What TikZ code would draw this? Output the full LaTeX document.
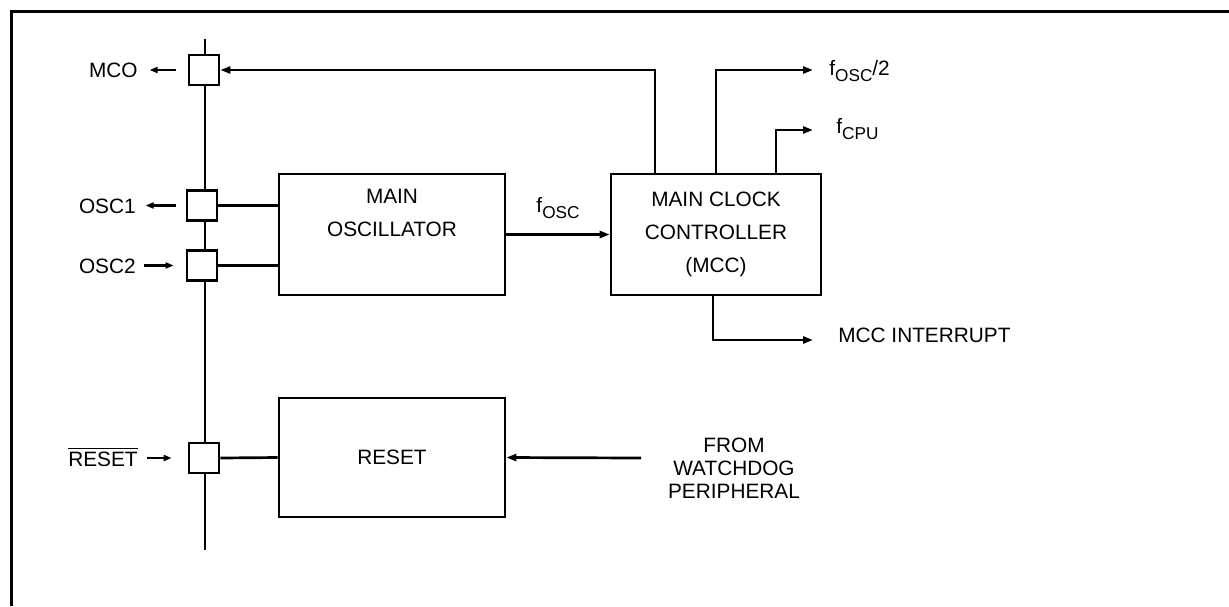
\documentclass[tikz,border=0pt]{standalone}
\usepackage{fontspec}
\setmainfont{Liberation Sans}
\usetikzlibrary{arrows.meta,calc}
\newcommand{\lsub}[1]{\raisebox{-3.3pt}{\fontsize{8.6}{9}\selectfont #1}}
\begin{document}
\begin{tikzpicture}[x=0.5pt,y=-0.5pt,
  line width=1.35pt,
  every node/.style={font=\fontsize{10.4}{16.5}\selectfont, inner sep=0pt},
  pinbox/.style={draw, minimum width=15pt, minimum height=15pt, fill=white},
  blk/.style={draw, minimum width=113pt, minimum height=60.5pt, align=center},
  arr/.style={-{Triangle[length=5pt,width=3.5pt]}},
  sarr/.style={-{Triangle[length=4pt,width=3pt]}}]
\useasboundingbox (0,0) rectangle (1229,606);
\draw[line width=1.5pt] (11,606) -- (11,11) -- (1229,11);

% bus
\coordinate (bustop) at (205,39);
\coordinate (busbot) at (205,550);
\draw (bustop) -- (busbot);

% pin boxes
\node[pinbox] (mco) at (204,70) {};
\node[pinbox] (osc1) at (202,205.5) {};
\node[pinbox] (osc2) at (202,265.5) {};
\node[pinbox] (rstp) at (204,458) {};

% pin labels
\node[anchor=base east] (lmco) at (139,77) {MCO};
\node[anchor=base east] (losc1) at (137,213) {OSC1};
\node[anchor=base east] (losc2) at (137,273) {OSC2};
\node[anchor=base east] (lrst) at (139,466) {$\overline{\mbox{RESET}}$};

\draw[sarr] ([xshift=-6pt]mco.west) -- ([xshift=-19pt]mco.west);
\draw[sarr] ([xshift=-5pt]osc1.west) -- ([xshift=-20pt]osc1.west);
\draw[sarr] ([xshift=-21pt]osc2.west) -- ([xshift=-6pt]osc2.west);
\draw[sarr] ([xshift=-20.5pt]rstp.west) -- ([xshift=-8pt]rstp.west);

% blocks
\node[blk] (osc) at (392,234.5) {MAIN\\OSCILLATOR\\\strut};
\node[blk, minimum width=105pt] (mcc) at (716,234.5) {MAIN CLOCK\\CONTROLLER\\(MCC)};
\node[blk, minimum height=59.5pt] (rst) at (392,457.5) {RESET};

% connections pins - blocks
\draw (osc1.east) -- (osc1.east -| osc.west);
\draw (osc2.east) -- (osc2.east -| osc.west);
\draw (rstp.east) -- (rst.west);

% fosc
\draw[arr] (osc.east) -- (mcc.west);
\node[anchor=base] (lfosc) at (558,212) {f\lsub{OSC}};

% MCO feedback
\coordinate (c1) at (655,70);
\draw[arr] (mcc.north -| c1) |- (mco.east);

% fosc/2
\coordinate (c2) at (813,70);
\draw[arr] (mcc.north) |- (c2);
\node[anchor=base west] (lf2) at (828,75) {f\lsub{OSC}/2};

% fcpu
\coordinate (c3) at (776,130);
\coordinate (c3e) at (813,130);
\draw[arr] (mcc.north -| c3) |- (c3e);
\node[anchor=base west] (lfcpu) at (835,133) {f\lsub{CPU}};

% MCC interrupt
\coordinate (c4) at (713,340);
\coordinate (c4e) at (813,340);
\draw[arr] (mcc.south -| c4) |- (c4e);
\node[anchor=base west] (lint) at (837,342) {MCC INTERRUPT};

% watchdog
\coordinate (wd) at (641,458);
\draw[arr] (wd) -- (rst.east);
\node[align=center, font=\fontsize{10.4}{11.5}\selectfont] (lwd) at (734,468) {FROM\\WATCHDOG\\PERIPHERAL};
\end{tikzpicture}
\end{document}
